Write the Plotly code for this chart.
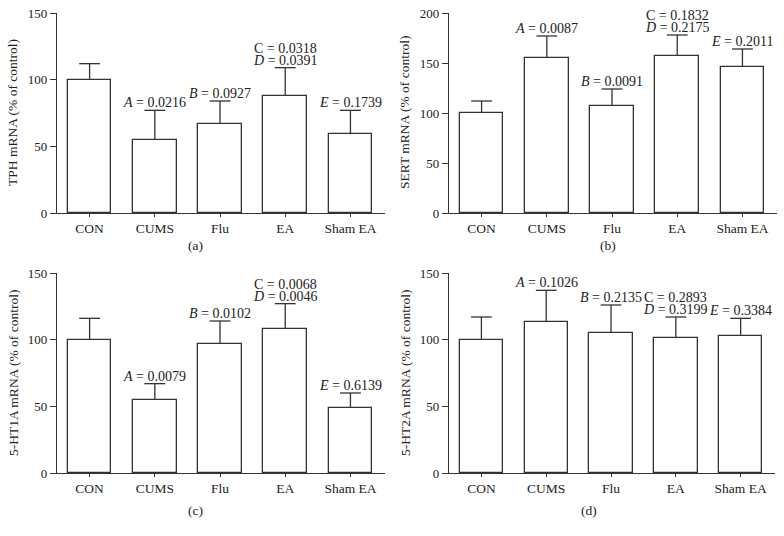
import plotly.graph_objects as go

categories = ["CON", "CUMS", "Flu", "EA", "Sham EA"]

tph_mean = [100, 55, 67, 88, 59]
tph_upper = [112, 77, 84, 109, 77]
sert_mean = [100, 155, 107, 157, 146]
sert_upper = [112, 177, 124, 178, 164]
ht1a_mean = [100, 55, 97, 108, 49]
ht1a_upper = [116, 67, 114, 127, 60]
ht2a_mean = [100, 113, 105, 101, 103]
ht2a_upper = [117, 137, 126, 117, 116]

tph_p = [[], [("A", "0.0216")], [("B", "0.0927")], [("C", "0.0318"), ("D", "0.0391")], [("E", "0.1739")]]
sert_p = [[], [("A", "0.0087")], [("B", "0.0091")], [("C", "0.1832"), ("D", "0.2175")], [("E", "0.2011")]]
ht1a_p = [[], [("A", "0.0079")], [("B", "0.0102")], [("C", "0.0068"), ("D", "0.0046")], [("E", "0.6139")]]
ht2a_p = [[], [("A", "0.1026")], [("B", "0.2135")], [("C", "0.2893"), ("D", "0.3199")], [("E", "0.3384")]]

y_titles = ["TPH mRNA (% of control)", "SERT mRNA (% of control)",
            "5-HT1A mRNA (% of control)", "5-HT2A mRNA (% of control)"]
y_max = [150, 200, 150, 150]
y_dtick = [50, 50, 50, 50]
panel_labels = ["(a)", "(b)", "(c)", "(d)"]

W, H = 784, 536
FONT = "Liberation Serif, Times New Roman, serif"
LINE = "#333333"
CAP = 0.16  # cap half-width in category units

# pixel layout of each panel: (x0, x1, ytop, ybottom)
panels_px = [(57, 385, 13, 213), (449, 777, 13, 213), (57, 385, 273, 473), (449, 775, 273, 473)]
title_x_px = [13, 405, 13, 405]
label_px = [(195, 245), (608, 246), (195, 510), (589, 510)]

means = [tph_mean, sert_mean, ht1a_mean, ht2a_mean]
uppers = [tph_upper, sert_upper, ht1a_upper, ht2a_upper]
pvals = [tph_p, sert_p, ht1a_p, ht2a_p]

fig = go.Figure()
annotations = []
layout = {}
for i in range(4):
    xa = "x" if i == 0 else f"x{i+1}"
    ya = "y" if i == 0 else f"y{i+1}"
    xkey = "xaxis" if i == 0 else f"xaxis{i+1}"
    ykey = "yaxis" if i == 0 else f"yaxis{i+1}"
    x0, x1, yt, yb = panels_px[i]
    m, u = means[i], uppers[i]
    xs = list(range(len(categories)))
    fig.add_trace(go.Bar(
        x=xs, y=m, xaxis=xa, yaxis=ya,
        width=0.67,
        marker=dict(color="white", line=dict(color=LINE, width=1.3)),
        showlegend=False, hoverinfo="skip",
    ))
    # upper error bars (stem + top cap only)
    ex, ey = [], []
    for j in xs:
        ex += [j, j, None, j - CAP, j + CAP, None]
        ey += [m[j], u[j], None, u[j], u[j], None]
    fig.add_trace(go.Scatter(
        x=ex, y=ey, xaxis=xa, yaxis=ya, mode="lines",
        line=dict(color=LINE, width=1.3), showlegend=False, hoverinfo="skip",
        cliponaxis=False,
    ))
    layout[xkey] = dict(
        domain=[x0 / W, x1 / W], anchor=ya, automargin=False,
        range=[-0.5, 4.53], tickmode="array",
        tickvals=xs, ticktext=categories,
        showline=True, linecolor=LINE, linewidth=1.3,
        ticks="outside", ticklen=3, tickcolor=LINE, tickwidth=1.3,
        showgrid=False, zeroline=False,
        tickfont=dict(family=FONT, size=13.5, color="#222"),
    )
    layout[ykey] = dict(
        domain=[1 - yb / H, 1 - yt / H], anchor=xa, automargin=False,
        range=[0, y_max[i]], dtick=y_dtick[i], tick0=0,
        showline=True, linecolor=LINE, linewidth=1.3,
        ticks="outside", ticklen=6, tickcolor=LINE, tickwidth=1.3,
        showgrid=False, zeroline=False,
        tickfont=dict(family=FONT, size=13, color="#222"),
    )
    # y-axis title
    annotations.append(dict(
        text=y_titles[i], textangle=-90, xref="paper", yref="paper",
        x=title_x_px[i] / W, y=1 - (yt + yb) / 2 / H,
        xanchor="center", yanchor="middle", showarrow=False,
        font=dict(family=FONT, size=13.5, color="#222"),
    ))
    # panel label
    lx, ly = label_px[i]
    annotations.append(dict(
        text=panel_labels[i], xref="paper", yref="paper",
        x=lx / W, y=1 - ly / H, xanchor="center", yanchor="middle",
        showarrow=False, font=dict(family=FONT, size=13.5, color="#222"),
    ))
    # p-value annotations
    for j, plist in enumerate(pvals[i]):
        n = len(plist)
        for k, (letter, val) in enumerate(plist):
            lt = letter if letter == "C" else f"<i>{letter}</i>"
            annotations.append(dict(
                text=f"{lt} = {val}", xref=xa, yref=ya,
                x=j, y=u[j], xanchor="center", yanchor="bottom",
                yshift=-1 + (n - 1 - k) * 12, showarrow=False,
                font=dict(family=FONT, size=14, color="#222"),
                borderpad=0,
            ))

fig.update_layout(
    width=W, height=H, margin=dict(l=0, r=0, t=0, b=0, autoexpand=False),
    paper_bgcolor="white", plot_bgcolor="white",
    annotations=annotations, bargap=0, **layout,
)
fig.write_html("out.html", config={"displayModeBar": False},
               post_script="document.body.style.margin='0';document.body.style.overflow='hidden';")
